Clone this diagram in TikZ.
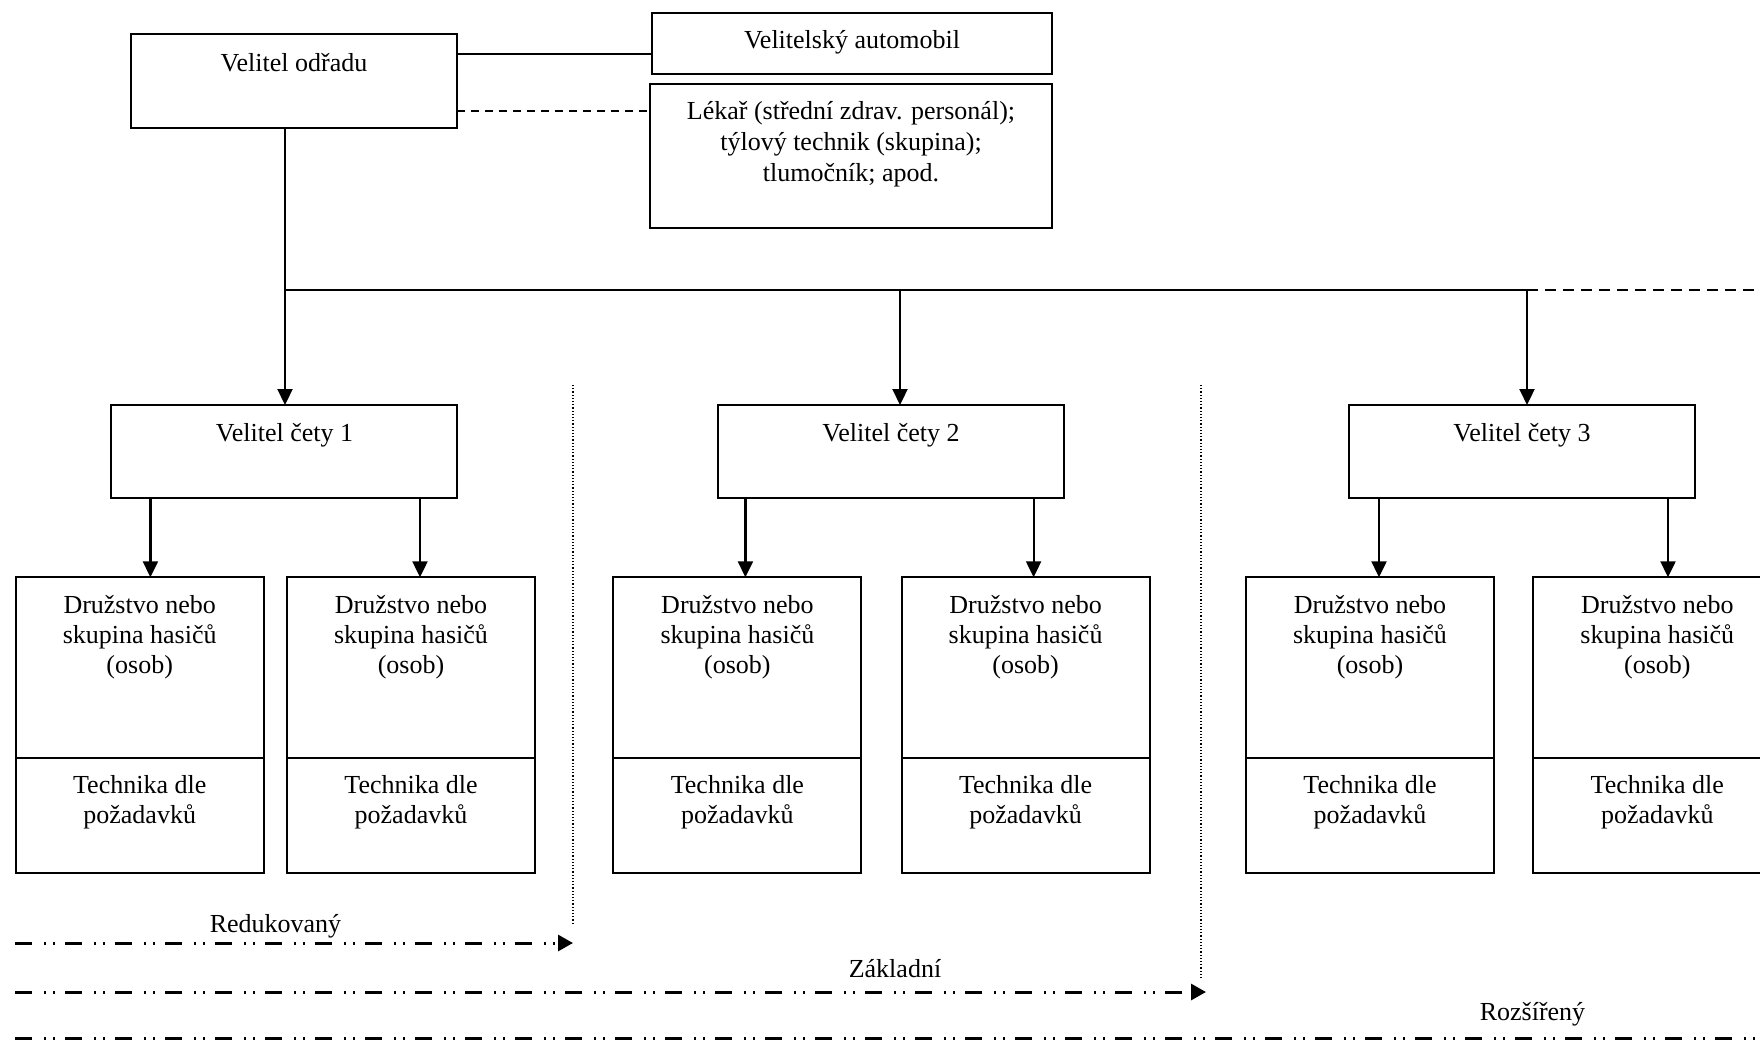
\documentclass[tikz,border=0pt]{standalone}
\usepackage{fontspec}
\setmainfont{Liberation Serif}
\usetikzlibrary{arrows.meta,calc}
\begin{document}
\begin{tikzpicture}[x=1pt,y=-1pt,
  txt/.style={anchor=base, inner sep=0pt, font=\fontsize{26}{30}\selectfont},
  heavybox/.style={draw, line width=2.2pt, inner sep=0pt, outer sep=0pt, anchor=north west},
  lightbox/.style={draw, line width=1.6pt, inner sep=0pt, outer sep=0pt, anchor=north west},
  dbox/.style={draw, line width=1.9pt, inner sep=0pt, outer sep=0pt, anchor=north west, minimum width=248pt, minimum height=296pt},
  cbox/.style={heavybox, minimum width=346pt, minimum height=93pt},
  conn/.style={line width=2.2pt},
  arr/.style={conn, -{Triangle[length=16pt,width=15pt]}},
  thindash/.style={line width=1.9pt, dash pattern=on 8pt off 6pt},
  busdash/.style={line width=2.2pt, dash pattern=on 11pt off 7pt},
  sep/.style={line width=1.2pt, dash pattern=on 1.2pt off 2pt},
  dashdot/.style={line width=3pt, dash pattern=on 17pt off 12pt on 2pt off 7pt on 2pt off 10pt, -{Triangle[length=15pt,width=16pt]}},
  dashdotplain/.style={line width=3pt, dash pattern=on 17pt off 12pt on 2pt off 7pt on 2pt off 10pt}
]
\useasboundingbox (0,0) rectangle (1760,1042);
\clip (0,0) rectangle (1760,1042);

% top boxes
\node[heavybox, minimum width=326pt, minimum height=94pt] (vo) at (131,34) {};
\node[txt] (vot) at (294,71) {Velitel odřadu};
\node[lightbox, minimum width=400pt, minimum height=61pt] (auto) at (652,13) {};
\node[txt] (autot) at (852,48) {Velitelský automobil};
\node[lightbox, minimum width=402pt, minimum height=144pt] (lek) at (650,84) {};
\node[txt] (lek1) at (851,119) {Lékař (střední zdrav. personál);};
\node[txt] (lek2) at (851,150) {týlový technik (skupina);};
\node[txt] (lek3) at (851,181) {tlumočník; apod.};

\coordinate (h1) at (0,54);
\coordinate (h2) at (0,111);
\draw[conn] (vo.east |- h1) -- (auto.west |- h1);
\draw[thindash] (vo.east |- h2) -- (lek.west |- h2);

% platoon commanders
\node[cbox] (c1) at (111,405) {};
\node[txt] (c1t) at (284.5,441) {Velitel čety 1};
\node[cbox] (c2) at (718,405) {};
\node[txt] (c2t) at (891,441) {Velitel čety 2};
\node[cbox] (c3) at (1349,405) {};
\node[txt] (c3t) at (1522,441) {Velitel čety 3};

% bus
\coordinate (b1) at (285,290);
\coordinate (b2) at (900,290);
\coordinate (b3) at (1527,290);
\coordinate (bend) at (1775,290);
\draw[arr] (vo.south -| b1) -- (c1.north -| b1);
\draw[conn] (b1) -- (b3);
\draw[arr] (b2) -- (c2.north -| b2);
\draw[arr] (b3) -- (c3.north -| b3);
\draw[busdash] (b3) -- (bend);

% squads
\coordinate (dv) at (0,758);
\foreach \i/\xl in {1/15.7, 2/287, 3/613.4, 4/901.6, 5/1246, 6/1533.3} {
  \node[dbox] (d\i) at (\xl,577.3) {};
  \draw[line width=1.9pt] (d\i.west |- dv) -- (d\i.east |- dv);
  \node[txt] (d\i-a) at ($(d\i.north)+(0,36)$) {Družstvo nebo};
  \node[txt] (d\i-b) at ($(d\i.north)+(0,66)$) {skupina hasičů};
  \node[txt] (d\i-c) at ($(d\i.north)+(0,96)$) {(osob)};
  \node[txt] (d\i-d) at ($(d\i.north)+(0,216)$) {Technika dle};
  \node[txt] (d\i-e) at ($(d\i.north)+(0,246)$) {požadavků};
}

\coordinate (a1) at (150.4,0);
\coordinate (a2) at (420,0);
\coordinate (a3) at (745.4,0);
\coordinate (a4) at (1033.6,0);
\coordinate (a5) at (1379,0);
\coordinate (a6) at (1668,0);
\draw[arr] (c1.south -| a1) -- (d1.north -| a1);
\draw[arr] (c1.south -| a2) -- (d2.north -| a2);
\draw[arr] (c2.south -| a3) -- (d3.north -| a3);
\draw[arr] (c2.south -| a4) -- (d4.north -| a4);
\draw[arr] (c3.south -| a5) -- (d5.north -| a5);
\draw[arr] (c3.south -| a6) -- (d6.north -| a6);

% separators
\coordinate (s1t) at (573,385);
\coordinate (s1b) at (573,924);
\coordinate (s2t) at (1201,385);
\coordinate (s2b) at (1201,980);
\draw[sep] (s1t) -- (s1b);
\draw[sep] (s2t) -- (s2b);

% variants
\coordinate (l1s) at (15,943);
\coordinate (l1e) at (573,943);
\coordinate (l2s) at (15,992);
\coordinate (l2e) at (1206,992);
\coordinate (l3s) at (15,1038);
\coordinate (l3e) at (1775,1038);
\draw[dashdot] (l1s) -- (l1e);
\draw[dashdot] (l2s) -- (l2e);
\draw[dashdotplain] (l3s) -- (l3e);
\node[txt] (red) at (275.5,932) {Redukovaný};
\node[txt] (zak) at (895,977) {Základní};
\node[txt] (roz) at (1532.5,1020) {Rozšířený};
\end{tikzpicture}
\end{document}
